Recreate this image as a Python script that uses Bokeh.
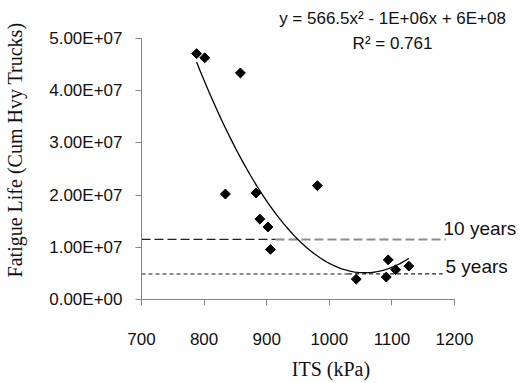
import numpy as np
from bokeh.plotting import figure
from bokeh.models import Range1d, FixedTicker
from bokeh.core.properties import value
from bokeh.embed import file_html
from bokeh.resources import INLINE

# Data
its = [788, 801, 858, 834, 883, 889, 902, 906, 981, 1043, 1094, 1091, 1106, 1127]
fatigue = [4.71e7, 4.63e7, 4.34e7, 2.02e7, 2.04e7, 1.54e7, 1.39e7, 0.96e7,
           2.18e7, 0.39e7, 0.76e7, 0.43e7, 0.57e7, 0.64e7]

ten_year_level = 1.15e7
five_year_level = 0.49e7
ten_dark_x = [700, 914]
ten_grey_x = [914, 1186]
five_grey_x = [700, 1030]
five_dark_x = [1030, 1181]

x_ticks = [700, 800, 900, 1000, 1100, 1200]
y_ticks = [0, 1e7, 2e7, 3e7, 4e7, 5e7]
y_tick_labels = ["0.00E+00", "1.00E+07", "2.00E+07", "3.00E+07", "4.00E+07", "5.00E+07"]

equation_text = "y = 566.5x\u00b2 - 1E+06x + 6E+08"
r2_text = "R\u00b2 = 0.761"
ten_label = "10 years"
five_label = "5 years"

# frame spans to the top/right canvas edges so that texts there are not clipped;
# axes are bounded to the chart's real extents
p = figure(width=520, height=383, output_backend="svg", toolbar_location=None,
           x_range=Range1d(700, 1305.4), y_range=Range1d(0, 5.728e7),
           min_border_left=141, min_border_right=0, min_border_top=0, min_border_bottom=84)
p.outline_line_color = None
p.xgrid.visible = False
p.ygrid.visible = False
p.background_fill_color = "white"
p.border_fill_color = "white"

for ax in (p.xaxis[0], p.yaxis[0]):
    ax.axis_line_color = "#868686"
    ax.major_tick_line_color = "#868686"
    ax.major_tick_out = 6
    ax.major_tick_in = 0
    ax.minor_tick_line_color = None
    ax.major_label_text_font = "Liberation Sans"
    ax.major_label_text_font_size = "17px"
    ax.major_label_text_color = "#111111"
    ax.axis_label_text_font = "Liberation Serif"
    ax.axis_label_text_font_size = "20px"
    ax.axis_label_text_font_style = "normal"
    ax.axis_label_text_color = "#111111"

p.xaxis.bounds = (x_ticks[0], x_ticks[-1])
p.yaxis.bounds = (y_ticks[0], y_ticks[-1])
p.xaxis.ticker = FixedTicker(ticks=x_ticks)
p.yaxis.ticker = FixedTicker(ticks=y_ticks)
p.yaxis.major_label_overrides = {t: l for t, l in zip(y_ticks, y_tick_labels)}
p.yaxis.major_label_standoff = 13
p.xaxis.major_label_standoff = 27
p.xaxis.axis_label = "ITS (kPa)"
p.yaxis.axis_label = "Fatigue Life (Cum Hvy Trucks)"
p.xaxis.axis_label_standoff = 10
p.yaxis.axis_label_standoff = 20

# reference lines
p.line(ten_grey_x, [ten_year_level] * 2, line_color="#8c8c8c", line_width=2, line_dash="9 4")
p.line(ten_dark_x, [ten_year_level] * 2, line_color="#222222", line_width=1.3, line_dash="9 4")
p.line(five_grey_x, [five_year_level] * 2, line_color="#8c8c8c", line_width=2, line_dash="4 3")
p.line(five_dark_x, [five_year_level] * 2, line_color="#222222", line_width=1.3, line_dash="4 3")

# polynomial trendline (order 2) fitted to the data
coef = np.polyfit(its, fatigue, 2)
xs = np.linspace(min(its), max(its), 120)
p.line(xs, np.polyval(coef, xs), line_color="black", line_width=1.3)

p.scatter(its, fatigue, marker="square", angle=np.pi / 4, size=7,
          fill_color="black", line_color="black")

common = dict(text_baseline="middle", text_font=value("Liberation Sans"), text_color="#111111")
p.text(x=[1101, 1101], y=[5.383e7, 4.904e7], text=[equation_text, r2_text],
       text_align="center", text_font_size="17px", **common)
p.text(x=[1182.4, 1185.6], y=[1.36e7, 0.638e7], text=[ten_label, five_label],
       text_align="left", text_font_size="19px", **common)

open("out.html", "w").write(file_html(p, INLINE))
